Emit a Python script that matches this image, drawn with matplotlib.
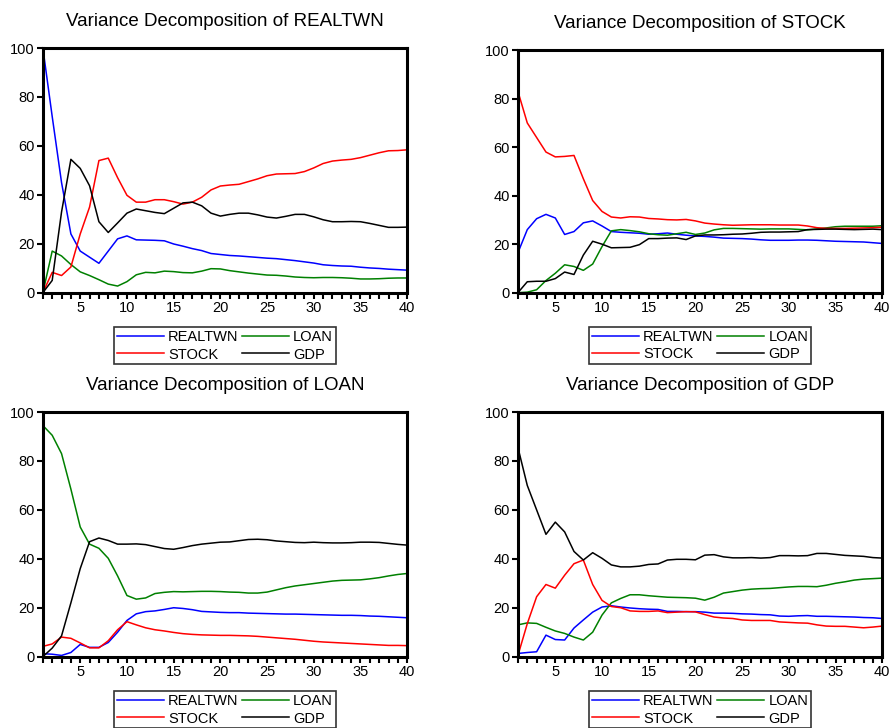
import numpy as np
import matplotlib
matplotlib.use("Agg")
import matplotlib.pyplot as plt

plt.rcParams['font.family'] = ['Liberation Sans', 'DejaVu Sans']

periods = np.arange(1, 41)
names = ['REALTWN', 'LOAN', 'STOCK', 'GDP']
colors = {'REALTWN': '#0000ff', 'LOAN': '#008000', 'STOCK': '#ff0000', 'GDP': '#000000'}

# variance decomposition of REALTWN
realtwn_realtwn = [100, 72, 45, 24, 17, 14.5, 12, 17, 22, 23.2, 21.6, 21.5, 21.4, 21.2, 19.9, 19, 18, 17.2, 16,
                   15.6, 15.2, 15, 14.7, 14.4, 14.1, 13.9, 13.5, 13.1, 12.6, 12.1, 11.4, 11.1, 10.9, 10.8, 10.4,
                   10.1, 9.9, 9.6, 9.4, 9.2]
realtwn_loan = [0, 17, 15, 11.5, 8.5, 7, 5.3, 3.5, 2.7, 4.5, 7.3, 8.3, 8.1, 8.8, 8.6, 8.2, 8.1, 8.8, 9.8, 9.7,
                9, 8.5, 8, 7.6, 7.2, 7.1, 6.8, 6.4, 6.2, 6.1, 6.2, 6.2, 6.1, 5.9, 5.6, 5.6, 5.7, 5.9, 6, 6]
realtwn_stock = [0, 8.3, 7, 10.5, 24, 35, 54, 55, 47, 39.8, 37, 37, 38, 38, 37.2, 36.2, 37, 39, 42, 43.6,
                 44, 44.3, 45.4, 46.5, 47.8, 48.5, 48.6, 48.7, 49.5, 51, 52.8, 53.8, 54.2, 54.5, 55.2, 56.2,
                 57.2, 58, 58.1, 58.4]
realtwn_gdp = [0, 5, 33, 54.5, 50.8, 43.7, 29, 24.6, 28.5, 32.5, 34.2, 33.5, 32.8, 32.3, 34.5, 36.7, 37, 35.5,
               32.5, 31.3, 32, 32.5, 32.5, 31.8, 30.9, 30.5, 31.2, 32, 32, 31, 29.8, 29, 29, 29.1, 29, 28.3,
               27.5, 26.7, 26.7, 26.8]

# variance decomposition of STOCK
stock_realtwn = [16.5, 26, 30.5, 32.3, 30.8, 24, 25.2, 28.8, 29.6, 27.5, 25.2, 24.9, 24.7, 24.5, 24.1, 24.3,
                 24.6, 24.1, 23.7, 23.4, 23.2, 22.9, 22.5, 22.4, 22.3, 22.1, 21.8, 21.6, 21.6, 21.6, 21.7, 21.7,
                 21.6, 21.4, 21.2, 21.1, 21, 20.9, 20.6, 20.3]
stock_loan = [0, 0.2, 1.2, 5, 8, 11.5, 10.8, 9.2, 11.8, 19, 25.5, 26, 25.6, 25.1, 24.3, 23.9, 23.7, 24.3, 24.9,
              24, 24.6, 25.9, 26.5, 26.5, 26.4, 26.3, 26.2, 26.3, 26.3, 26.3, 26.1, 25.9, 26.3, 26.7, 27.2, 27.4,
              27.4, 27.4, 27.4, 27.6]
stock_stock = [83, 70, 64, 58, 56, 56.2, 56.6, 47, 38, 33.5, 31.2, 30.8, 31.3, 31.2, 30.6, 30.4, 30.1, 30, 30.2,
               29.6, 28.7, 28.3, 28, 27.8, 27.9, 28, 28, 28, 27.9, 27.9, 27.9, 27.5, 26.8, 26.5, 26.5, 26.5,
               26.6, 26.7, 26.8, 27]
stock_gdp = [0, 4.5, 4.7, 4.7, 5.8, 8.5, 7.5, 15.5, 21.2, 20, 18.5, 18.6, 18.7, 19.8, 22.3, 22.3, 22.5, 22.6,
             21.9, 23.4, 23.8, 23.8, 23.9, 24.1, 24.2, 24.5, 24.9, 25, 25, 25.1, 25.2, 26, 26.1, 26.2, 26.2,
             26.1, 26, 26.1, 26.2, 26]

# variance decomposition of LOAN
loan_realtwn = [1.2, 1, 0.5, 1.7, 5, 3.8, 3.8, 5.8, 10, 14.8, 17.5, 18.4, 18.7, 19.3, 20, 19.7, 19.2, 18.5,
                18.3, 18.1, 18, 18, 17.8, 17.7, 17.6, 17.5, 17.4, 17.4, 17.3, 17.2, 17.1, 17, 16.9, 16.9, 16.8,
                16.6, 16.5, 16.3, 16.1, 15.9]
loan_loan = [94.5, 90.5, 83, 68.5, 53, 46, 44.3, 40.2, 33, 25, 23.5, 24, 25.8, 26.3, 26.6, 26.5, 26.6, 26.7,
             26.7, 26.6, 26.4, 26.3, 26, 26, 26.4, 27.3, 28.2, 28.9, 29.4, 29.9, 30.4, 30.9, 31.2, 31.3, 31.4,
             31.8, 32.3, 33, 33.6, 34]
loan_stock = [4.2, 5.2, 8, 7.5, 5.6, 3.6, 3.6, 6.5, 11, 14.3, 13, 11.8, 11, 10.5, 9.9, 9.4, 9.1, 8.9, 8.8, 8.7,
              8.7, 8.6, 8.5, 8.3, 8, 7.7, 7.4, 7.1, 6.7, 6.3, 6, 5.8, 5.6, 5.4, 5.2, 5, 4.8, 4.6, 4.6, 4.5]
loan_gdp = [0, 3.5, 8.5, 22, 36, 47, 48.5, 47.5, 46, 46, 46.1, 45.8, 45, 44.2, 43.9, 44.6, 45.4, 46, 46.4, 46.8,
            46.9, 47.4, 47.9, 48, 47.8, 47.3, 47, 46.7, 46.6, 46.8, 46.6, 46.5, 46.5, 46.6, 46.8, 46.8, 46.7,
            46.3, 45.9, 45.6]

# variance decomposition of GDP
gdp_realtwn = [1.3, 1.7, 2, 8.8, 7, 6.8, 11.7, 15, 18.2, 20.3, 20.8, 20.3, 19.9, 19.6, 19.4, 19.3, 18.5, 18.5,
               18.4, 18.4, 18.2, 17.8, 17.8, 17.7, 17.5, 17.4, 17.2, 17.1, 16.6, 16.5, 16.7, 16.8, 16.5, 16.5,
               16.4, 16.3, 16.2, 16, 15.9, 15.6]
gdp_loan = [13, 13.8, 13.6, 12, 10.5, 9.5, 8, 6.8, 10, 17, 22, 23.8, 25.3, 25.3, 24.9, 24.6, 24.3, 24.2, 24.1,
            23.9, 23.1, 24.3, 26, 26.6, 27.2, 27.6, 27.8, 27.9, 28.2, 28.5, 28.7, 28.7, 28.6, 29.2, 30, 30.6,
            31.3, 31.7, 31.9, 32.1]
gdp_stock = [0.5, 13.5, 24.5, 29.5, 28, 33.3, 38, 39.5, 29.5, 23, 20.5, 20, 18.7, 18.5, 18.5, 18.7, 18, 18.2,
             18.4, 18.3, 17.2, 16.2, 15.8, 15.6, 15, 14.8, 14.8, 14.8, 14.2, 14, 13.8, 13.7, 13, 12.5, 12.4,
             12.4, 12.1, 11.8, 12.1, 12.5]
gdp_gdp = [85.5, 70, 60, 50, 55, 51, 43, 39.5, 42.5, 40.2, 37.5, 36.7, 36.7, 37, 37.7, 37.9, 39.5, 39.8, 39.8,
           39.6, 41.5, 41.7, 40.8, 40.4, 40.4, 40.5, 40.3, 40.5, 41.3, 41.3, 41.2, 41.3, 42.2, 42.2, 41.8, 41.4,
           41.2, 41, 40.5, 40.3]

panels = [
    ('REALTWN', {'REALTWN': realtwn_realtwn, 'LOAN': realtwn_loan, 'STOCK': realtwn_stock, 'GDP': realtwn_gdp}),
    ('STOCK', {'REALTWN': stock_realtwn, 'LOAN': stock_loan, 'STOCK': stock_stock, 'GDP': stock_gdp}),
    ('LOAN', {'REALTWN': loan_realtwn, 'LOAN': loan_loan, 'STOCK': loan_stock, 'GDP': loan_gdp}),
    ('GDP', {'REALTWN': gdp_realtwn, 'LOAN': gdp_loan, 'STOCK': gdp_stock, 'GDP': gdp_gdp}),
]

fig = plt.figure(figsize=(8.93, 7.28), dpi=100)
boxes = [
    [0.048, 0.598, 0.408, 0.336],
    [0.580, 0.598, 0.408, 0.333],
    [0.048, 0.098, 0.408, 0.336],
    [0.580, 0.098, 0.408, 0.336],
]

for (target, series), box in zip(panels, boxes):
    ax = fig.add_axes(box)
    lines = {}
    for n in names:
        lines[n], = ax.plot(periods, series[n], color=colors[n], lw=1.1)
    ax.set_xlim(1, 40)
    ax.set_ylim(0, 100)
    ax.set_xticks([5, 10, 15, 20, 25, 30, 35, 40])
    ax.set_xticks(periods, minor=True)
    ax.set_yticks([0, 20, 40, 60, 80, 100])
    ax.tick_params(axis='both', direction='out', length=4, width=1.5, labelsize=10.5, pad=2)
    ax.tick_params(axis='x', which='minor', direction='out', length=4, width=1.5)
    for s in ax.spines.values():
        s.set_linewidth(2.2)
    ax.set_title('Variance Decomposition of ' + target, fontsize=13.5, pad=16)
    leg = ax.legend([lines['REALTWN'], lines['STOCK'], lines['LOAN'], lines['GDP']],
                    ['REALTWN', 'STOCK', 'LOAN', 'GDP'], ncol=2, loc='upper center',
                    bbox_to_anchor=(0.5, -0.142), frameon=True, fancybox=False, fontsize=10.5,
                    handlelength=3.2, handletextpad=0.3, columnspacing=0.25, labelspacing=0.22,
                    borderpad=0.2, borderaxespad=0)
    leg.get_frame().set_edgecolor('black')
    leg.get_frame().set_linewidth(1.2)

fig.savefig('out.png', dpi=100)
